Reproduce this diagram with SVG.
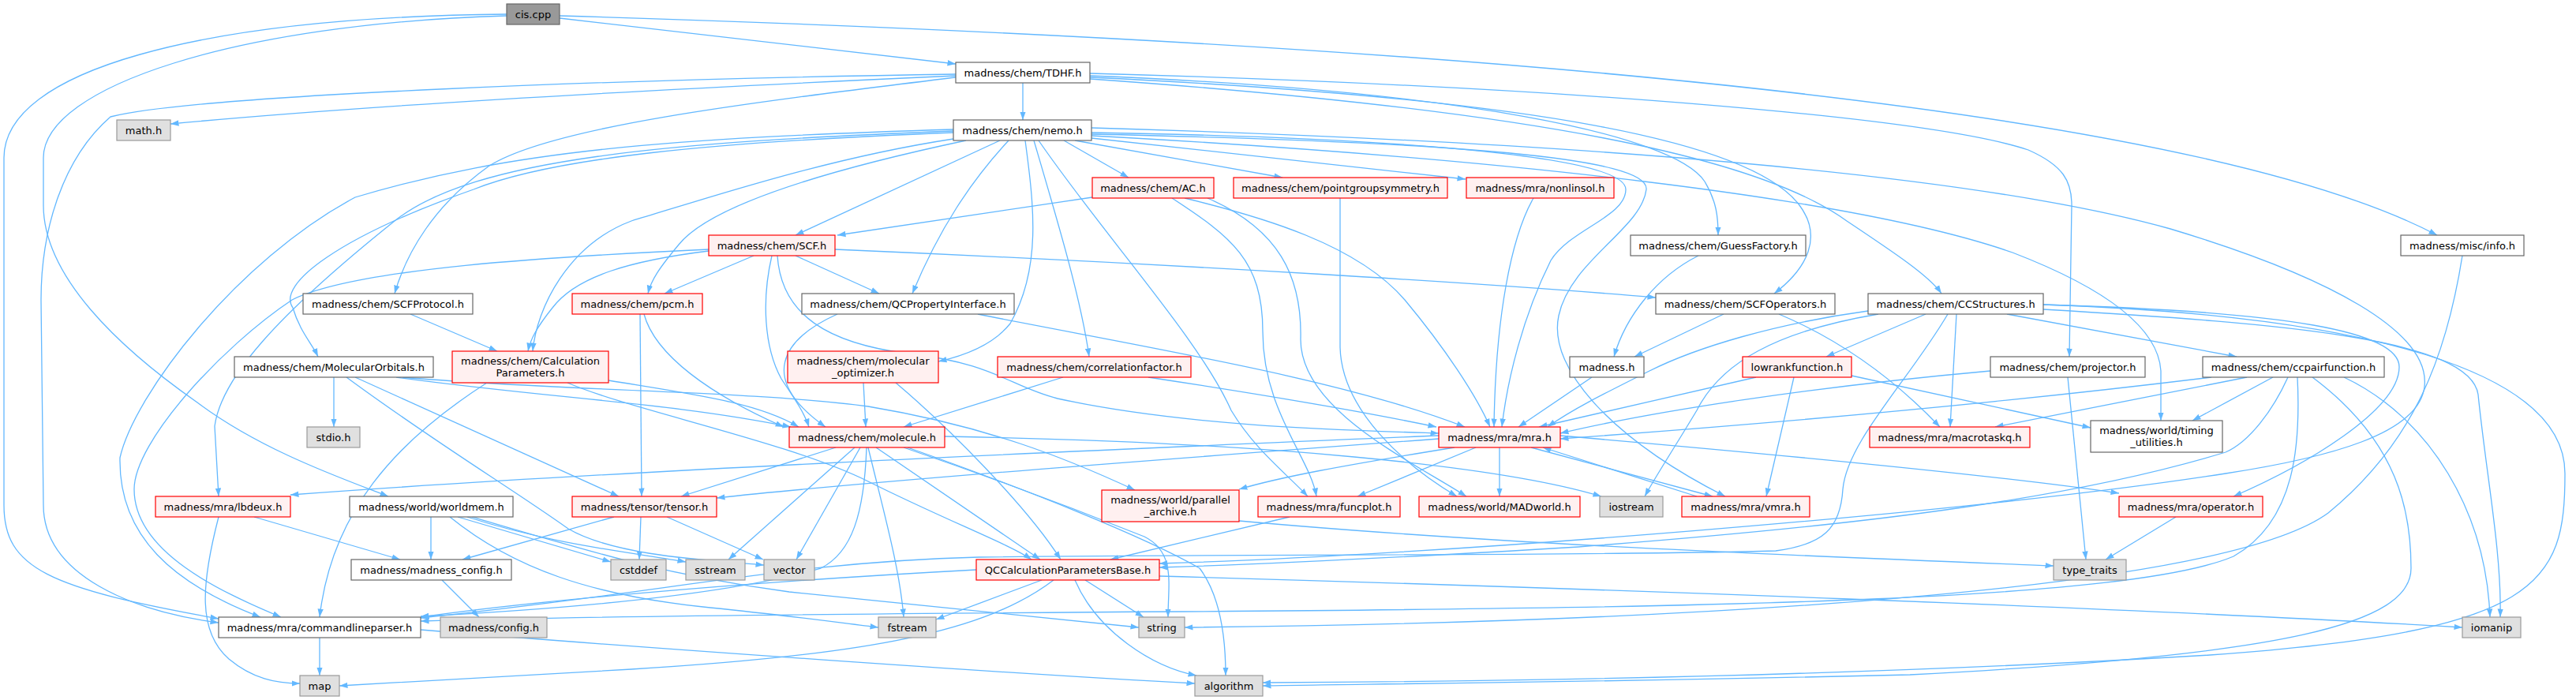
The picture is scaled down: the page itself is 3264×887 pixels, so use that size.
<svg xmlns="http://www.w3.org/2000/svg" width="3264" height="887" viewBox="0 0 3264 887">
<defs>
<marker id="a" markerWidth="11" markerHeight="8" refX="10.5" refY="4" orient="auto" markerUnits="userSpaceOnUse"><path d="M0,0.3 L10.5,4 L0,7.7 z" fill="#63b8ff"/></marker>
<style>
text{font-family:"DejaVu Sans","Liberation Sans",sans-serif;font-size:13px;text-anchor:middle;fill:#000}
rect{stroke-width:1.2}
.w rect{fill:#fff;stroke:#666}
.r rect{fill:#fff0f0;stroke:#f00}
.k rect{fill:#e0e0e0;stroke:#999}
.c rect{fill:#999;stroke:#666}
#edges path{fill:none;stroke:#63b8ff;stroke-width:1.3;marker-end:url(#a)}
</style>
</defs>
<rect width="3264" height="887" fill="#fff"/>
<g id="edges">
<path d="M709,23 L1211,81"/>
<path d="M709,20 C1700,50 2750,120 3088,298"/>
<path d="M642,18 C250,22 5,90 5,200 L5,640 C5,720 60,745 277,784"/>
<path d="M642,20 C300,30 55,110 55,200 L55,260 C55,350 150,440 250,510 C330,570 430,605 492,629"/>
<path d="M1296,105 L1296,152"/>
<path d="M1211,96 C900,110 500,130 216,157"/>
<path d="M1211,94 C800,100 250,120 140,148 C80,200 52,290 52,380 L55,640 C55,730 170,775 277,789"/>
<path d="M1211,98 C950,130 700,160 620,210 C550,260 515,320 500,372"/>
<path d="M1381,96 C1850,115 2120,170 2160,230 C2175,255 2177,275 2177,298"/>
<path d="M1381,98 C1950,125 2220,180 2280,260 C2310,300 2290,340 2248,372"/>
<path d="M1381,100 C1950,140 2230,200 2340,280 C2400,320 2445,350 2460,372"/>
<path d="M1381,93 C2000,110 2450,150 2570,190 C2615,210 2625,230 2625,260 L2622,452"/>
<path d="M1348,178 L1430,225"/>
<path d="M1362,178 L1625,225"/>
<path d="M1383,175 L1857,227"/>
<path d="M1267,178 L1008,298"/>
<path d="M1224,178 C1050,215 900,260 860,310 C835,340 825,355 821,372"/>
<path d="M1278,178 C1230,230 1190,290 1156,372"/>
<path d="M1208,176 C1050,200 900,250 800,280 C720,310 680,390 675,445"/>
<path d="M1208,168 C900,180 700,200 600,240 C430,300 350,360 371,390 C380,420 395,435 403,452"/>
<path d="M1208,166 C850,180 600,200 500,280 C350,400 280,480 272,540 L277,629"/>
<path d="M1208,164 C850,175 650,190 450,250 C300,330 170,500 152,580 C150,680 220,740 330,782"/>
<path d="M1299,178 C1310,260 1320,340 1280,410 C1260,435 1225,450 1189,458"/>
<path d="M1310,178 C1340,280 1370,380 1380,452"/>
<path d="M1316,178 C1400,300 1520,430 1560,520 C1590,570 1630,600 1657,629"/>
<path d="M1383,168 C1800,175 2060,200 2060,240 C2060,275 1990,290 1965,330 C1930,400 1910,480 1903,541"/>
<path d="M1383,170 C1850,180 2090,200 2086,240 C2080,290 1990,330 1975,400 C1960,470 2050,560 2186,629"/>
<path d="M1383,162 C2000,180 2500,220 2750,290 C2950,350 3080,420 3072,490 C3065,550 2950,580 2820,600 C2500,650 1800,705 1469,714"/>
<path d="M1383,172 C1900,200 2350,250 2550,320 C2680,370 2735,420 2738,470 L2738,533"/>
<path d="M1384,250 C1250,270 1150,285 1061,298"/>
<path d="M1501,251 C1600,275 1720,310 1780,380 C1830,440 1870,500 1888,541"/>
<path d="M1485,251 C1560,300 1600,330 1600,420 C1600,520 1660,580 1668,629"/>
<path d="M1530,251 C1620,290 1650,350 1648,430 C1648,520 1790,585 1858,629"/>
<path d="M1698,251 L1698,440 C1700,520 1780,590 1846,629"/>
<path d="M1943,251 C1915,300 1895,400 1893,541"/>
<path d="M955,324 L842,372"/>
<path d="M1008,324 L1114,372"/>
<path d="M898,318 C800,330 730,350 700,390 C680,415 672,430 669,445"/>
<path d="M898,316 C700,325 450,340 370,380 C280,440 170,560 170,620 C170,700 280,750 356,782"/>
<path d="M1058,316 C1500,335 1900,360 2098,377"/>
<path d="M978,324 C965,380 968,440 990,480 C1010,510 1020,525 1025,541"/>
<path d="M985,324 C990,400 1050,435 1150,448 C1260,460 1280,490 1340,505 C1500,540 1700,545 1823,549"/>
<path d="M520,398 L630,445"/>
<path d="M811,398 L813,629"/>
<path d="M816,398 C830,450 900,500 993,541"/>
<path d="M1061,398 C990,430 960,480 1046,541"/>
<path d="M1239,398 C1450,440 1700,480 1856,541"/>
<path d="M423,478 L423,541"/>
<path d="M450,478 L784,629"/>
<path d="M502,478 C700,505 850,510 1002,541"/>
<path d="M510,478 C700,495 950,495 1100,515 C1250,540 1350,580 1438,621"/>
<path d="M439,478 C550,560 650,620 720,670 C780,705 900,710 968,716"/>
<path d="M771,482 C880,500 960,510 1012,541"/>
<path d="M719,485 C800,520 1000,560 1100,610 C1200,660 1280,690 1307,709"/>
<path d="M617,485 C500,560 420,650 405,782"/>
<path d="M1094,485 L1097,541"/>
<path d="M1135,485 C1200,540 1300,640 1344,709"/>
<path d="M1347,478 L1145,541"/>
<path d="M1455,478 C1600,500 1720,520 1820,541"/>
<path d="M2017,478 L1924,541"/>
<path d="M2225,478 L1950,541"/>
<path d="M2273,478 L2238,629"/>
<path d="M2346,476 L2649,542"/>
<path d="M2522,470 C2300,490 2100,520 1977,549"/>
<path d="M2620,478 L2643,709"/>
<path d="M2802,478 C2500,515 2200,540 1977,556"/>
<path d="M2847,478 L2528,541"/>
<path d="M2880,478 L2778,533"/>
<path d="M2970,478 C3080,530 3150,650 3155,782"/>
<path d="M2899,478 C2880,520 2850,560 2820,573 C2600,640 2300,670 2000,693 C1800,705 1600,715 1469,719"/>
<path d="M2911,478 C2915,560 2910,660 2830,705 C2700,760 2200,770 1500,775 C1000,778 700,782 533,787"/>
<path d="M2930,478 C3040,560 3055,650 3055,720 C3055,790 2900,830 2420,855 C2000,865 1700,867 1600,869"/>
<path d="M2479,398 L2471,541"/>
<path d="M2254,398 C2330,430 2400,480 2458,541"/>
<path d="M2440,398 L2314,452"/>
<path d="M2543,398 L2834,452"/>
<path d="M2367,394 C2250,410 2150,440 2090,470 C2030,500 1990,520 1961,541"/>
<path d="M2380,398 C2250,420 2180,460 2150,520 C2120,570 2100,600 2084,629"/>
<path d="M2589,386 C2900,395 3040,420 3040,465 C3040,520 2920,590 2830,629"/>
<path d="M2468,398 C2420,480 2340,560 2335,620 C2332,670 2310,690 2250,698 C2000,705 1500,702 1240,706 C1000,712 850,750 533,783"/>
<path d="M2589,392 C2900,410 3130,430 3140,500 C3150,600 3170,700 3168,782"/>
<path d="M2589,386 C3000,400 3250,470 3250,600 C3250,740 3220,800 2800,830 C2300,860 1800,864 1600,865"/>
<path d="M3120,324 C3100,450 3060,560 2950,650 C2800,760 2000,790 1501,795"/>
<path d="M1823,552 C1400,570 800,595 368,627"/>
<path d="M1823,556 C1500,580 1100,610 908,631"/>
<path d="M1843,567 C1700,590 1620,605 1570,620"/>
<path d="M1870,567 L1720,629"/>
<path d="M1900,567 L1900,629"/>
<path d="M1940,567 L2170,629"/>
<path d="M2150,629 L1955,567"/>
<path d="M1977,552 C2300,580 2550,605 2685,625"/>
<path d="M1059,567 L863,629"/>
<path d="M1083,567 L923,709"/>
<path d="M1090,567 L1009,709"/>
<path d="M1098,567 C1095,650 1080,700 1040,720 C900,760 650,775 533,781"/>
<path d="M1100,567 C1120,650 1140,720 1145,782"/>
<path d="M1110,567 L1318,709"/>
<path d="M1145,567 C1300,620 1400,660 1450,680 C1490,700 1480,740 1480,782"/>
<path d="M1150,567 C1300,620 1450,680 1520,720 C1550,760 1553,820 1553,856"/>
<path d="M1197,553 C1600,560 1900,590 2029,629"/>
<path d="M812,655 L810,709"/>
<path d="M845,655 L967,709"/>
<path d="M778,655 L586,709"/>
<path d="M546,655 L546,709"/>
<path d="M580,655 L774,712"/>
<path d="M592,655 C700,690 800,700 869,712"/>
<path d="M570,655 C650,720 750,755 900,770 C1000,780 1070,790 1113,795"/>
<path d="M598,655 C750,700 850,730 1000,750 C1200,770 1350,785 1443,795"/>
<path d="M322,655 L507,709"/>
<path d="M277,655 C255,740 250,800 290,835 C320,860 350,866 380,866"/>
<path d="M560,735 L607,782"/>
<path d="M405,808 L405,856"/>
<path d="M533,798 C800,820 1300,855 1514,866"/>
<path d="M1320,735 L1186,785"/>
<path d="M1375,735 L1449,782"/>
<path d="M1362,735 C1390,800 1460,845 1516,856"/>
<path d="M1237,722 C900,740 650,765 533,782"/>
<path d="M1335,735 C1250,800 1100,830 800,848 C600,860 480,866 430,869"/>
<path d="M1469,730 C2000,745 2700,770 3120,795"/>
<path d="M1570,660 C1900,690 2300,705 2602,717"/>
<path d="M2757,655 L2668,709"/>
<path d="M1634,655 L1407,709"/>
<path d="M2184,398 L2071,452"/>
<path d="M2152,324 C2100,350 2060,400 2045,452"/>
</g>
<g id="n_cis" class="c"><rect x="642" y="5" width="67" height="26"/><text x="675.5" y="22.5">cis.cpp</text></g>
<g id="n_tdhf" class="w"><rect x="1211" y="79" width="170" height="26"/><text x="1296" y="96.5">madness/chem/TDHF.h</text></g>
<g id="n_math" class="k"><rect x="148" y="152" width="68" height="26"/><text x="182" y="169.5">math.h</text></g>
<g id="n_nemo" class="w"><rect x="1208" y="152" width="175" height="26"/><text x="1295.5" y="169.5">madness/chem/nemo.h</text></g>
<g id="n_ac" class="r"><rect x="1384" y="225" width="154" height="26"/><text x="1461" y="242.5">madness/chem/AC.h</text></g>
<g id="n_pgs" class="r"><rect x="1563" y="225" width="271" height="26"/><text x="1698.5" y="242.5">madness/chem/pointgroupsymmetry.h</text></g>
<g id="n_nonlinsol" class="r"><rect x="1858" y="225" width="187" height="26"/><text x="1951.5" y="242.5">madness/mra/nonlinsol.h</text></g>
<g id="n_scf" class="r"><rect x="898" y="298" width="160" height="26"/><text x="978" y="315.5">madness/chem/SCF.h</text></g>
<g id="n_guess" class="w"><rect x="2066" y="298" width="222" height="26"/><text x="2177" y="315.5">madness/chem/GuessFactory.h</text></g>
<g id="n_info" class="w"><rect x="3042" y="298" width="156" height="26"/><text x="3120" y="315.5">madness/misc/info.h</text></g>
<g id="n_scfprot" class="w"><rect x="384" y="372" width="215" height="26"/><text x="491.5" y="389.5">madness/chem/SCFProtocol.h</text></g>
<g id="n_pcm" class="r"><rect x="725" y="372" width="165" height="26"/><text x="807.5" y="389.5">madness/chem/pcm.h</text></g>
<g id="n_qcpi" class="w"><rect x="1016" y="372" width="269" height="26"/><text x="1150.5" y="389.5">madness/chem/QCPropertyInterface.h</text></g>
<g id="n_scfop" class="w"><rect x="2098" y="372" width="227" height="26"/><text x="2211.5" y="389.5">madness/chem/SCFOperators.h</text></g>
<g id="n_ccs" class="w"><rect x="2367" y="372" width="222" height="26"/><text x="2478" y="389.5">madness/chem/CCStructures.h</text></g>
<g id="n_mo" class="w"><rect x="297" y="452" width="252" height="26"/><text x="423" y="469.5">madness/chem/MolecularOrbitals.h</text></g>
<g id="n_calcp" class="r"><rect x="573" y="445" width="198" height="40"/><text x="672" y="461.5">madness/chem/Calculation</text><text x="672" y="476.5">Parameters.h</text></g>
<g id="n_molopt" class="r"><rect x="998" y="445" width="191" height="40"/><text x="1093.5" y="461.5">madness/chem/molecular</text><text x="1093.5" y="476.5">_optimizer.h</text></g>
<g id="n_corr" class="r"><rect x="1264" y="452" width="245" height="26"/><text x="1386.5" y="469.5">madness/chem/correlationfactor.h</text></g>
<g id="n_madness" class="w"><rect x="1989" y="452" width="94" height="26"/><text x="2036" y="469.5">madness.h</text></g>
<g id="n_lowrank" class="r"><rect x="2208" y="452" width="138" height="26"/><text x="2277" y="469.5">lowrankfunction.h</text></g>
<g id="n_proj" class="w"><rect x="2522" y="452" width="196" height="26"/><text x="2620" y="469.5">madness/chem/projector.h</text></g>
<g id="n_ccpair" class="w"><rect x="2791" y="452" width="230" height="26"/><text x="2906" y="469.5">madness/chem/ccpairfunction.h</text></g>
<g id="n_stdio" class="k"><rect x="389" y="541" width="67" height="26"/><text x="422.5" y="558.5">stdio.h</text></g>
<g id="n_molecule" class="r"><rect x="1000" y="541" width="197" height="26"/><text x="1098.5" y="558.5">madness/chem/molecule.h</text></g>
<g id="n_mra" class="r"><rect x="1823" y="541" width="154" height="26"/><text x="1900" y="558.5">madness/mra/mra.h</text></g>
<g id="n_macro" class="r"><rect x="2369" y="541" width="203" height="26"/><text x="2470.5" y="558.5">madness/mra/macrotaskq.h</text></g>
<g id="n_timing" class="w"><rect x="2649" y="533" width="167" height="40"/><text x="2732.5" y="549.5">madness/world/timing</text><text x="2732.5" y="564.5">_utilities.h</text></g>
<g id="n_lbdeux" class="r"><rect x="197" y="629" width="171" height="26"/><text x="282.5" y="646.5">madness/mra/lbdeux.h</text></g>
<g id="n_worldmem" class="w"><rect x="443" y="629" width="207" height="26"/><text x="546.5" y="646.5">madness/world/worldmem.h</text></g>
<g id="n_tensor" class="r"><rect x="725" y="629" width="183" height="26"/><text x="816.5" y="646.5">madness/tensor/tensor.h</text></g>
<g id="n_parch" class="r"><rect x="1396" y="621" width="174" height="40"/><text x="1483" y="637.5">madness/world/parallel</text><text x="1483" y="652.5">_archive.h</text></g>
<g id="n_funcplot" class="r"><rect x="1594" y="629" width="180" height="26"/><text x="1684" y="646.5">madness/mra/funcplot.h</text></g>
<g id="n_madworld" class="r"><rect x="1798" y="629" width="204" height="26"/><text x="1900" y="646.5">madness/world/MADworld.h</text></g>
<g id="n_iostream" class="k"><rect x="2027" y="629" width="80" height="26"/><text x="2067" y="646.5">iostream</text></g>
<g id="n_vmra" class="r"><rect x="2131" y="629" width="162" height="26"/><text x="2212" y="646.5">madness/mra/vmra.h</text></g>
<g id="n_operator" class="r"><rect x="2685" y="629" width="182" height="26"/><text x="2776" y="646.5">madness/mra/operator.h</text></g>
<g id="n_mconfig" class="w"><rect x="445" y="709" width="203" height="26"/><text x="546.5" y="726.5">madness/madness_config.h</text></g>
<g id="n_cstddef" class="k"><rect x="774" y="709" width="70" height="26"/><text x="809" y="726.5">cstddef</text></g>
<g id="n_sstream" class="k"><rect x="869" y="709" width="75" height="26"/><text x="906.5" y="726.5">sstream</text></g>
<g id="n_vector" class="k"><rect x="968" y="709" width="64" height="26"/><text x="1000" y="726.5">vector</text></g>
<g id="n_qccalc" class="r"><rect x="1237" y="709" width="232" height="26"/><text x="1353" y="726.5">QCCalculationParametersBase.h</text></g>
<g id="n_typetraits" class="k"><rect x="2602" y="709" width="92" height="26"/><text x="2648" y="726.5">type_traits</text></g>
<g id="n_cmdline" class="w"><rect x="277" y="782" width="256" height="26"/><text x="405" y="799.5">madness/mra/commandlineparser.h</text></g>
<g id="n_config" class="k"><rect x="558" y="782" width="135" height="26"/><text x="625.5" y="799.5">madness/config.h</text></g>
<g id="n_fstream" class="k"><rect x="1113" y="782" width="73" height="26"/><text x="1149.5" y="799.5">fstream</text></g>
<g id="n_string" class="k"><rect x="1443" y="782" width="58" height="26"/><text x="1472" y="799.5">string</text></g>
<g id="n_iomanip" class="k"><rect x="3120" y="782" width="74" height="26"/><text x="3157" y="799.5">iomanip</text></g>
<g id="n_map" class="k"><rect x="380" y="856" width="50" height="26"/><text x="405" y="873.5">map</text></g>
<g id="n_algorithm" class="k"><rect x="1514" y="856" width="86" height="26"/><text x="1557" y="873.5">algorithm</text></g>
</svg>
